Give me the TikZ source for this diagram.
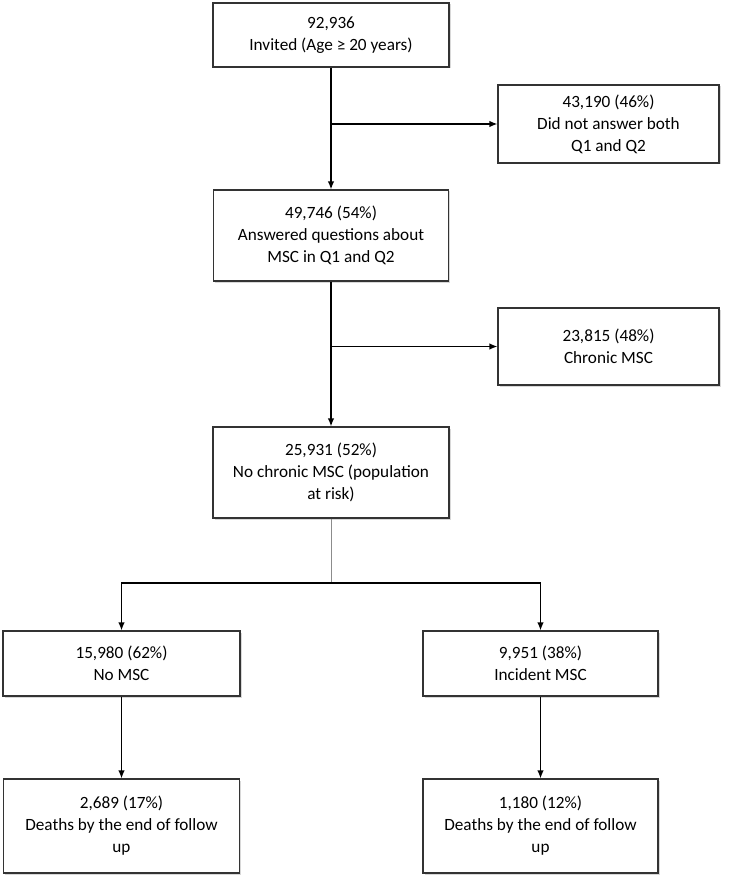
\documentclass[tikz,border=0pt]{standalone}
\usepackage{fontspec}
\setmainfont{Carlito}
\usepackage{tikz}
\usetikzlibrary{arrows.meta,shadows,positioning}

\begin{document}
\begin{tikzpicture}[x=1pt,y=-1pt,
		flowbox/.style={draw=boxedge,line width=1.2pt,fill=white,align=center,
			inner sep=2pt,font=\fontsize{17.2}{22}\selectfont,
			drop shadow={shadow xshift=1.5pt,shadow yshift=-1.5pt,fill=black!30}},
		flowline/.style={line width=1.3pt,-{Latex[length=8pt,width=6.5pt]}}]
	\colorlet{boxedge}{black!80}
	\colorlet{splitline}{black!45}
	\useasboundingbox (0,0) rectangle (740,882);
	
	% ---------- main column ----------
	\node[flowbox,minimum width=236pt,minimum height=64pt] (invited) at (331,35)
		{92,936\\Invited (Age ≥ 20 years)};
	\node[flowbox,minimum width=235pt,minimum height=91pt] (answered) at (331,235.5)
		{49,746 (54\%)\\Answered questions about\\MSC in Q1 and Q2};
	\node[flowbox,minimum width=236pt,minimum height=91pt] (atrisk) at (331,472.5)
		{25,931 (52\%)\\No chronic MSC (population\\at risk)};
	
	% ---------- exclusions ----------
	\node[flowbox,minimum width=221pt,minimum height=78pt] (nonresp) at (608.5,124)
		{43,190 (46\%)\\Did not answer both\\Q1 and Q2};
	\node[flowbox,minimum width=221pt,minimum height=77pt] (chronic) at (608.5,346.5)
		{23,815 (48\%)\\Chronic MSC};
	
	% ---------- split ----------
	\node[flowbox,minimum width=237pt,minimum height=65pt] (nomsc) at (121.5,663.5)
		{15,980 (62\%)\\No MSC};
	\node[flowbox,minimum width=235pt,minimum height=65pt] (incident) at (540.5,663.5)
		{9,951 (38\%)\\Incident MSC};
	\node[flowbox,minimum width=236pt,minimum height=94pt] (deathsnomsc) at (121.5,826)
		{2,689 (17\%)\\Deaths by the end of follow\\up};
	\node[flowbox,minimum width=235pt,minimum height=94pt] (deathsincident) at (540.5,826)
		{1,180 (12\%)\\Deaths by the end of follow\\up};
	
	% ---------- connectors ----------
	\draw[flowline] (invited.south) -- (answered.north);
	\draw[flowline] (invited.south |- nonresp.west) -- (nonresp.west);
	\draw[flowline] (answered.south) -- (atrisk.north);
	\draw[flowline] (answered.south |- chronic.west) -- (chronic.west);
	
	\coordinate (split) at (331,583);
	\draw[splitline,line width=0.6pt] (atrisk.south) -- (split);
	\draw[flowline] (split) -| (nomsc.north);
	\draw[flowline] (split) -| (incident.north);
	\draw[flowline] (nomsc.south) -- (deathsnomsc.north);
	\draw[flowline] (incident.south) -- (deathsincident.north);
	
\end{tikzpicture}
\end{document}
